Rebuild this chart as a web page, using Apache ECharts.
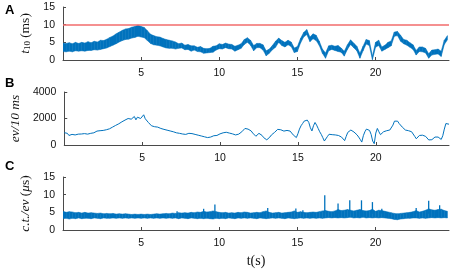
<!DOCTYPE html>
<html><head><meta charset="utf-8">
<script src="https://cdn.jsdelivr.net/npm/echarts@6/dist/echarts.min.js"></script>
<style>html,body{margin:0;padding:0;background:#fff}#c{width:454px;height:271px}</style>
</head><body><div id="c"></div>
<script>
// ---- data ----
const BAND_STEP = 0.2;   // s, sampling of the envelopes in panels A and C
const LINE_STEP = 0.1;   // s, sampling of panel B
const xTicks = [5, 10, 15, 20];
const yTicksA = [0, 5, 10, 15];
const yTicksB = [0, 2000, 4000];
const yTicksC = [0, 5, 10, 15];
const thresholdA = 10;

// Panel A: t10 (ms), lower / upper envelope of the noisy trace
const aLow = [2.4,2.3,2.5,2.3,2.6,2.5,2.6,2.5,2.7,2.7,2.9,2.8,3.0,3.2,3.4,3.8,4.2,4.6,5.1,5.5,
5.8,5.9,6.2,6.4,6.7,6.5,6.3,5.5,4.7,4.3,4.2,4.0,3.7,3.4,3.3,3.3,3.1,
3.3,3.4,2.9,3.0,2.5,2.8,2.4,2.3,1.9,2.0,2.1,2.2,2.8,3.2,3.1,3.5,3.2,3.1,2.5,2.9,
3.3,4.4,5.0,4.2,2.6,3.5,3.5,2.8,1.2,1.9,2.9,3.6,5.0,4.1,3.7,4.3,3.8,2.1,2.4,4.8,
6.5,7.2,5.2,6.0,5.5,4.1,1.9,0.5,2.6,3.0,2.7,2.4,2.2,1.1,3.0,4.4,3.5,2.6,0.5,2.6,
4.5,4.1,0.1,3.6,4.1,2.5,3.0,3.5,4.0,6.7,6.9,5.3,4.6,4.2,3.6,3.0,1.4,2.4,2.3,2.0,
0.5,1.4,1.6,1.7,1.0,4.4,5.7];
const aHigh = [4.8,4.7,4.9,4.6,5.0,4.7,5.0,4.8,5.2,4.9,5.3,5.1,5.6,5.5,5.9,6.4,6.8,7.4,7.9,8.4,
8.8,8.9,9.3,9.5,9.9,9.5,9.2,8.3,7.3,6.9,6.6,6.5,6.1,5.8,5.6,5.4,5.1,
4.6,4.8,4.2,4.4,4.0,4.0,3.6,3.8,3.3,3.2,3.3,3.9,4.0,4.6,4.4,4.8,4.5,4.4,3.9,4.2,
4.6,5.8,6.3,5.6,4.1,4.7,4.7,4.3,2.6,3.1,4.1,5.3,6.2,5.5,5.0,5.6,5.1,3.4,3.8,6.1,
7.8,8.6,6.5,7.4,7.0,5.3,3.1,2.0,4.0,4.2,3.9,4.1,3.4,2.5,4.3,5.7,4.8,3.9,1.9,3.9,
5.8,5.5,1.1,5.0,5.6,3.7,4.2,5.0,5.4,7.9,8.1,7.0,5.8,5.6,4.9,4.3,2.7,3.7,3.7,3.3,
1.8,2.8,2.9,3.1,2.5,5.6,6.9];

// Panel B: ev / 10 ms
const bVals = [930,780,880,720,850,800,900,760,870,820,910,
830,940,860,900,820,960,880,1000,920,980,
1050,940,1080,990,1100,1030,1150,1080,1220,1180,
1350,1260,1480,1420,1600,1520,1750,1650,1880,1780,
2000,1850,1950,2050,2150,1900,2100,2250,2000,2150,
2280,1980,2000,1700,1580,1450,1520,1380,1420,1350,
1400,1250,1320,1180,1250,1120,1180,1060,1120,1000,
1050,920,980,880,940,830,880,800,860,880,
820,860,760,800,700,740,650,680,600,620,
540,560,520,600,640,700,760,720,800,840,
880,920,900,960,940,900,880,840,800,760,
760,820,900,1000,1150,1250,1300,1200,1100,1060,
900,760,660,720,880,860,720,560,450,390,
420,600,760,880,950,1050,1180,1300,1150,1000,
1050,1120,1100,1130,1050,900,760,620,560,850,
1200,1450,1620,1800,1920,1880,1700,1300,1060,1450,
1700,1500,1250,1000,800,550,300,220,650,810,
800,780,770,760,750,720,680,600,480,330,
650,950,1100,1130,1080,980,880,760,600,420,
220,700,1000,1200,1250,1100,800,300,100,900,
1250,1000,780,850,1000,1050,1080,1100,1130,1250,
1500,1800,1920,1800,1620,1500,1350,1250,1130,1100,
1080,1050,1000,900,650,470,600,720,760,740,
700,650,550,380,270,400,550,600,620,600,
580,420,700,1200,1620,1600,1570];

// Panel C: c.t./ev (µs), envelope plus isolated spikes
const cLow = [3.2,3.3,3.1,3.3,3.2,3.4,3.2,3.3,3.3,3.2,3.4,3.3,3.2,3.4,3.3,3.3,3.4,3.3,3.4,3.3,
3.4,3.3,3.4,3.3,3.4,3.3,3.4,3.3,3.4,3.3,3.4,3.3,3.4,3.3,3.4,3.3,3.4,3.2,3.4,3.3,
3.2,3.4,3.3,3.2,3.3,3.2,3.3,3.2,3.1,3.3,3.2,3.3,3.2,3.4,3.3,3.2,3.4,3.3,3.4,3.3,
3.4,3.3,3.2,3.4,3.3,3.2,3.3,3.4,3.3,3.4,3.3,3.2,3.4,3.3,3.2,3.3,3.4,3.3,3.4,3.3,
3.4,3.3,3.4,3.3,3.4,3.5,3.4,3.5,3.4,3.5,3.4,3.5,3.6,3.4,3.5,3.4,3.6,3.4,3.5,3.4,
3.5,3.4,3.5,3.4,3.3,3.2,3.0,2.9,3.1,3.2,3.3,3.3,3.4,3.4,3.3,3.4,3.3,3.4,3.5,3.4,
3.5,3.4,3.5,3.4];
const cHigh = [5.3,5.0,5.2,5.1,4.9,5.0,4.8,5.0,4.8,4.9,4.8,4.7,4.8,4.6,4.7,4.6,4.7,4.5,4.6,4.5,
4.6,4.5,4.4,4.5,4.4,4.5,4.4,4.5,4.4,4.5,4.6,4.5,4.6,4.7,4.6,4.8,4.7,4.9,4.8,4.9,
4.8,5.0,4.9,5.1,5.0,5.3,5.1,5.2,5.4,5.2,5.0,4.9,5.0,4.8,4.9,4.8,5.0,4.9,5.1,5.0,
4.8,4.9,5.0,4.9,5.2,5.4,5.0,4.8,4.9,5.0,4.8,4.9,5.0,5.1,5.4,5.0,5.2,5.0,4.9,5.0,
5.1,5.0,5.2,5.4,5.5,5.3,5.2,5.4,5.8,5.5,5.6,5.8,5.6,5.4,5.6,5.8,5.5,5.4,5.5,5.9,
5.3,5.6,5.5,5.3,5.1,4.9,4.7,4.6,4.7,4.8,4.9,5.0,5.2,5.5,5.1,5.3,5.6,6.0,5.7,5.6,
5.8,5.9,5.5,5.3];
const cSpikeT   = [7.3, 9.0, 9.72, 13.1, 14.9, 15.35, 16.75, 17.6, 18.35, 19.1, 19.8, 20.4, 22.6, 23.4, 24.1];
const cSpikeVal = [5.3, 6.0, 7.2,  6.2,  6.1,  5.6,   9.8,   7.5,  8.4,   8.4,  7.9,  6.0,  6.2,  8.3,  7.0];
const cSpikeBase = 4.6;

// ---- build series data ----
const bandT = aLow.map((_, i) => +(i * BAND_STEP).toFixed(2));
const lineT = bVals.map((_, i) => +(i * LINE_STEP).toFixed(2));
const triples = (ts, lo, hi) => lo.map((v, i) => [ts[i], v, hi[i]]);
const pairs = (ts, vs) => vs.map((v, i) => [ts[i], v]);

const BLUE = '#0072BD';
const AXIS = '#4a4a4a';
const LBL = {color: '#111', fontFamily: 'Liberation Sans, Arial, sans-serif', fontSize: 10.5};
const SERIF = 'Liberation Serif, Times New Roman, serif';

function xAxis(idx, withName) {
  const ax = {
    type: 'value', gridIndex: idx, min: 0, max: 24.7,
    axisLine: {lineStyle: {color: AXIS, width: 1}},
    axisTick: {inside: true, length: 3, lineStyle: {color: AXIS}, customValues: xTicks},
    axisLabel: Object.assign({margin: 8, customValues: xTicks}, LBL),
    splitLine: {show: false}
  };
  if (withName) {
    ax.name = 't(s)';
    ax.nameLocation = 'middle';
    ax.nameGap = 24;
    ax.nameTextStyle = {fontFamily: SERIF, fontSize: 14, color: '#111'};
  }
  return ax;
}
function yAxis(idx, max, ticks, name, gap, rich) {
  return {
    type: 'value', gridIndex: idx, min: 0, max: max,
    axisLine: {show: true, lineStyle: {color: AXIS, width: 1}},
    axisTick: {show: true, inside: true, length: 3, lineStyle: {color: AXIS}, customValues: ticks},
    axisLabel: Object.assign({margin: 8, customValues: ticks, formatter: v => String(v)}, LBL),
    splitLine: {show: false},
    name: name, nameLocation: 'middle', nameRotate: 90, nameGap: gap,
    nameTextStyle: {fontFamily: SERIF, fontSize: 13, color: '#111', rich: rich}
  };
}
const richBase = {
  i: {fontFamily: SERIF, fontStyle: 'italic', fontSize: 13.5, color: '#111'},
  r: {fontFamily: SERIF, fontSize: 13.5, color: '#111'},
  s: {fontFamily: SERIF, fontSize: 9, color: '#111', verticalAlign: 'bottom', lineHeight: 12}
};

// band drawn through the axes' scales: one quad between consecutive samples
function bandSeries(gi, data) {
  return {
    type: 'custom', xAxisIndex: gi, yAxisIndex: gi, data: data, clip: true,
    encode: {x: 0, y: [1, 2]},
    renderItem: function (params, api) {
      const i = params.dataIndex;
      if (i >= data.length - 1) return null;
      const a = data[i], b = data[i + 1];
      const pts = [api.coord([a[0], a[1]]), api.coord([b[0], b[1]]),
                   api.coord([b[0], b[2]]), api.coord([a[0], a[2]])];
      return {type: 'polygon', shape: {points: pts},
              style: {fill: BLUE, stroke: BLUE, lineWidth: 0.5}};
    }
  };
}

const chart = echarts.init(document.getElementById('c'), null, {renderer: 'canvas'});
chart.setOption({
  animation: false,
  backgroundColor: '#fff',
  title: [
    {text: 'A', left: 0, top: -1, textStyle: {fontFamily: 'Liberation Sans, Arial', fontWeight: 'bold', fontSize: 13, color: '#000'}},
    {text: 'B', left: 0, top: 72, textStyle: {fontFamily: 'Liberation Sans, Arial', fontWeight: 'bold', fontSize: 13, color: '#000'}},
    {text: 'C', left: 0, top: 155, textStyle: {fontFamily: 'Liberation Sans, Arial', fontWeight: 'bold', fontSize: 13, color: '#000'}}
  ],
  grid: [
    {left: 63, top: 7, width: 386, height: 53},
    {left: 63, top: 92, width: 386, height: 53},
    {left: 63, top: 177, width: 386, height: 53}
  ],
  xAxis: [xAxis(0, false), xAxis(1, false), xAxis(2, true)],
  yAxis: [
    yAxis(0, 15, yTicksA, '{i|t}{s|10} {r|(ms)}', 18, richBase),
    yAxis(1, 4000, yTicksB, '{i|ev/10 ms}', 32, richBase),
    yAxis(2, 15, yTicksC, '{i|c.t./ev} {r|(}{i|μ}{r|s)}', 18, richBase)
  ],
  series: [
    Object.assign(bandSeries(0, triples(bandT, aLow, aHigh)), {
      markLine: {silent: true, symbol: 'none', label: {show: false},
        lineStyle: {color: '#F26B6B', width: 1.5, type: 'solid'}, data: [{yAxis: thresholdA}]}}),
    {type: 'line', xAxisIndex: 1, yAxisIndex: 1, symbol: 'none',
     data: pairs(lineT, bVals), lineStyle: {color: BLUE, width: 1}},
    bandSeries(2, triples(bandT, cLow, cHigh)),
    {type: 'custom', xAxisIndex: 2, yAxisIndex: 2,
     data: pairs(cSpikeT, cSpikeVal),
     renderItem: function (params, api) {
       const p0 = api.coord([api.value(0), cSpikeBase]);
       const p1 = api.coord([api.value(0), api.value(1)]);
       return {type: 'line', shape: {x1: p0[0], y1: p0[1], x2: p1[0], y2: p1[1]},
               style: {stroke: BLUE, lineWidth: 1.3}};
     }}
  ]
});
</script></body></html>
